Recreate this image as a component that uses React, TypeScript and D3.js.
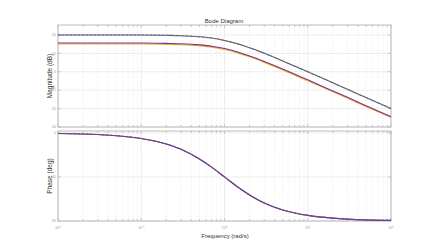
import React from "react";
import * as d3 from "d3";

const freqs = [0.01, 0.03, 0.1, 0.2, 0.3, 0.5, 0.7, 1, 1.5, 2, 3, 5, 7, 10, 20, 30, 50, 100];

// magnitude (dB) per system
const magBlue = [20, 20, 20, 19.8, 19.6, 19.0, 18.3, 17.0, 14.9, 13.0, 10.0, 5.9, 3.0, 0, -6.0, -9.5, -14.0, -20.0];
const magOrange = magBlue;
const magPurple = [15.6, 15.6, 15.6, 15.4, 15.2, 14.6, 13.9, 12.6, 10.5, 8.6, 5.6, 1.5, -1.4, -4.4, -10.4, -13.9, -18.4, -24.4];
const magYellow = [15.1, 15.1, 15.1, 14.9, 14.7, 14.1, 13.4, 12.1, 10.0, 8.1, 5.1, 1.0, -1.9, -4.9, -10.9, -14.4, -18.9, -24.9];

// phase (deg), all four systems overlap
const phase = [-0.6, -1.7, -5.7, -11.3, -16.7, -26.6, -35, -45, -56.3, -63.4, -71.6, -78.7, -81.9, -84.3, -87.1, -88.1, -88.9, -89.4];

const magTicks = [20, 10, 0, -10, -20, -30];
const phaseTicks = [0, -45, -90];
const freqTickExp = [-2, -1, 0, 1, 2];

const font = "Liberation Sans, Arial, sans-serif";

export default function App() {
  const width = 432;
  const height = 249;
  const left = 58;
  const right = 391;
  const magTop = 25;
  const magBottom = 127;
  const phTop = 131;
  const phBottom = 221;

  const x = d3.scaleLog().domain([0.01, 100]).range([left, right]);
  const yMag = d3.scaleLinear().domain([-30, 25.4]).range([magBottom, magTop]);
  const yPh = d3.scaleLinear().domain([-90, 1.9]).range([phBottom, phTop]);

  const allTicks = x.ticks();
  const majors = freqTickExp.map((e) => Math.pow(10, e));
  const minors = allTicks.filter((t) => !majors.some((m) => Math.abs(m - t) < 1e-9));

  const magLine = (vals: number[]) =>
    d3
      .line<number>()
      .x((_, i) => x(freqs[i]))
      .y((d) => yMag(d))
      .curve(d3.curveMonotoneX)(vals) || "";
  const phLine = d3
    .line<number>()
    .x((_, i) => x(freqs[i]))
    .y((d) => yPh(d))
    .curve(d3.curveMonotoneX)(phase) || "";

  const axisColor = "#b4b4b4";
  const gridColor = "#e8e8e8";
  const tickLabelColor = "#9a9a9a";

  const panel = (
    top: number,
    bottom: number,
    yTicks: number[],
    yScale: d3.ScaleLinear<number, number>,
    key: string
  ) => (
    <g key={key}>
      {minors.map((t) => (
        <line key={"mn" + t} x1={x(t)} x2={x(t)} y1={top} y2={bottom} stroke={gridColor} strokeWidth={0.8} strokeDasharray="1,1.5" />
      ))}
      {majors.map((t) => (
        <line key={"mj" + t} x1={x(t)} x2={x(t)} y1={top} y2={bottom} stroke={gridColor} strokeWidth={0.8} />
      ))}
      {yTicks.map((t) => (
        <line key={"h" + t} x1={left} x2={right} y1={yScale(t)} y2={yScale(t)} stroke={gridColor} strokeWidth={0.8} />
      ))}
      {/* tick marks */}
      {allTicks.map((t) => {
        const len = majors.some((m) => Math.abs(m - t) < 1e-9) ? 3 : 2;
        return (
          <g key={"tk" + t}>
            <line x1={x(t)} x2={x(t)} y1={bottom} y2={bottom - len} stroke={axisColor} strokeWidth={0.7} />
            <line x1={x(t)} x2={x(t)} y1={top} y2={top + len} stroke={axisColor} strokeWidth={0.7} />
          </g>
        );
      })}
      {yTicks.map((t) => (
        <g key={"yt" + t}>
          <line x1={left} x2={left + 3} y1={yScale(t)} y2={yScale(t)} stroke={axisColor} strokeWidth={0.7} />
          <line x1={right} x2={right - 3} y1={yScale(t)} y2={yScale(t)} stroke={axisColor} strokeWidth={0.7} />
          <text x={left - 2} y={yScale(t)} dy="0.35em" textAnchor="end" fontSize={3.5} fill={tickLabelColor} fontFamily={font}>
            {t}
          </text>
        </g>
      ))}
      <rect x={left} y={top} width={right - left} height={bottom - top} fill="none" stroke={axisColor} strokeWidth={0.9} />
    </g>
  );

  return (
    <svg width={width} height={height} style={{ position: "absolute", left: 0, top: 0, background: "#fff" }}>
      {panel(magTop, magBottom, magTicks, yMag, "mag")}
      {panel(phTop, phBottom, phaseTicks, yPh, "ph")}

      <g fill="none" strokeWidth={1.1}>
        <path d={magLine(magBlue)} stroke="#0072BD" />
        <path d={magLine(magOrange)} stroke="#D95319" strokeDasharray="2,2" />
        <path d={magLine(magYellow)} stroke="#EDB120" />
        <path d={magLine(magPurple)} stroke="#7E2F8E" />
        <path d={phLine} stroke="#0072BD" />
        <path d={phLine} stroke="#D95319" strokeDasharray="2,2" />
        <path d={phLine} stroke="#7E2F8E" strokeOpacity={0.8} />
      </g>

      {freqTickExp.map((e) => (
        <text key={"xl" + e} x={x(Math.pow(10, e))} y={229} textAnchor="middle" fontSize={3.5} fill={tickLabelColor} fontFamily={font}>
          10
          <tspan dy={-1.5} fontSize={2.6}>
            {e}
          </tspan>
        </text>
      ))}

      <text x={224} y={23} textAnchor="middle" fontSize={6} fill="#333" fontFamily={font}>
        Bode Diagram
      </text>
      <text x={225} y={238} textAnchor="middle" fontSize={6} fill="#333" fontFamily={font}>
        Frequency  (rad/s)
      </text>
      <text transform={`translate(52,${(magTop + magBottom) / 2}) rotate(-90)`} textAnchor="middle" fontSize={6.5} fill="#333" fontFamily={font}>
        Magnitude (dB)
      </text>
      <text transform={`translate(52,${(phTop + phBottom) / 2}) rotate(-90)`} textAnchor="middle" fontSize={6.5} fill="#333" fontFamily={font}>
        Phase (deg)
      </text>
    </svg>
  );
}
